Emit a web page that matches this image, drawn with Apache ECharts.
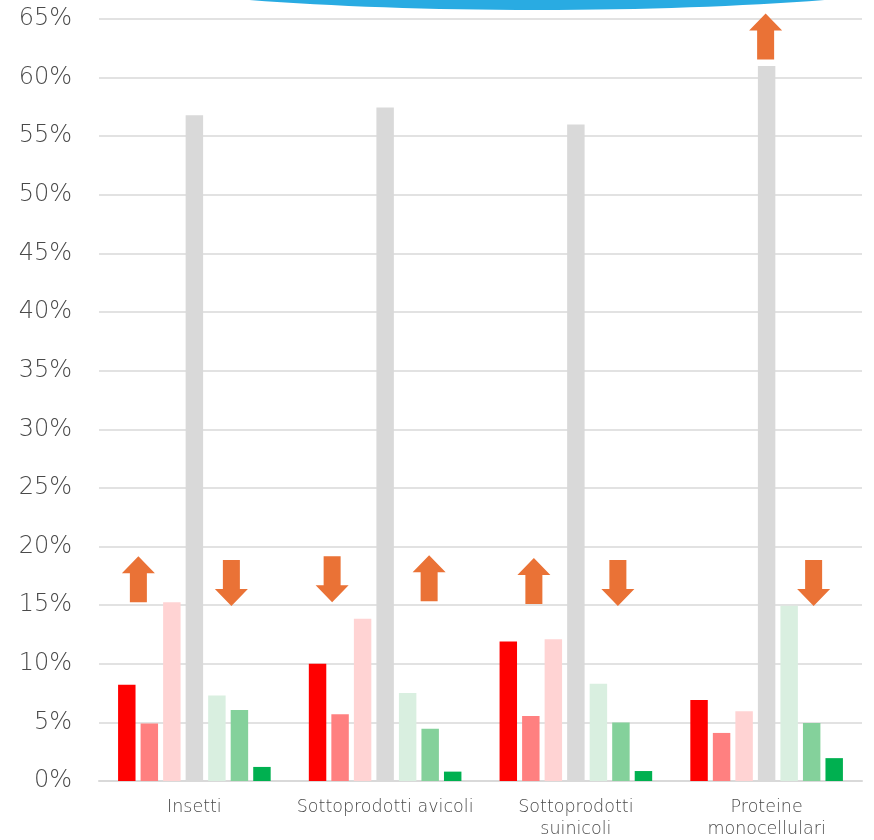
<!DOCTYPE html>
<html>
<head>
<meta charset="utf-8">
<script src="https://cdn.jsdelivr.net/npm/echarts@6/dist/echarts.min.js"></script>
<style>
  html, body { margin: 0; padding: 0; background: #fff; }
  #chart { width: 874px; height: 840px; }
</style>
</head>
<body>
<div id="chart"></div>
<script>
// ---- data ----
const categories = ['Insetti', 'Sottoprodotti avicoli', 'Sottoprodotti\nsuinicoli', 'Proteine\nmonocellulari'];
const series1 = [8.2, 10.0, 11.9, 6.9];
const series2 = [4.9, 5.7, 5.55, 4.1];
const series3 = [15.25, 13.85, 12.1, 5.95];
const series4 = [56.8, 57.45, 56.0, 61.0];
const series5 = [7.3, 7.5, 8.3, 14.95];
const series6 = [6.05, 4.45, 5.0, 4.95];
const series7 = [1.2, 0.8, 0.85, 1.95];
const yTicks = { min: 0, max: 65, step: 5 };
// arrows: category index, value (centre), direction
const arrowCats = [0, 0, 1, 1, 2, 2, 3, 3];
const arrowValues = [17.2, 16.9, 17.2, 17.3, 17.05, 16.9, 16.9, 63.5];
const arrowDirs = ['up', 'down', 'down', 'up', 'up', 'down', 'down', 'up'];

// ---- layout / style ----
const arrowOffsets = [-56, 37, -53, 44, -42, 42, 47, -1];
const colors = ['#FF0000', '#FF8080', '#FFD3D3', '#D9D9D9', '#D9EFE0', '#84D19B', '#00B050'];
const textColor = '#4a4a4a';
const font = '"DejaVu Sans", sans-serif';
const upPath = 'path://M16.5,0 L33,17 L25,17 L25,46 L8,46 L8,17 L0,17 Z';
const downPath = 'path://M8,0 L25,0 L25,29 L33,29 L16.5,46 L0,29 L8,29 Z';

const allSeries = [series1, series2, series3, series4, series5, series6, series7];

const chart = echarts.init(document.getElementById('chart'));

const barSeries = allSeries.map((vals, i) => ({
  name: 'Serie ' + (i + 1),
  type: 'bar',
  data: vals,
  barGap: '29%',
  barCategoryGap: '20%',
  itemStyle: { color: colors[i] },
  silent: true
}));

const arrowSeries = {
  type: 'scatter',
  silent: true,
  z: 5,
  data: arrowCats.map((c, i) => ({
    value: [categories[c], arrowValues[i]],
    symbol: arrowDirs[i] === 'up' ? upPath : downPath,
    symbolSize: [33, 46],
    symbolOffset: [arrowOffsets[i], 0],
    itemStyle: { color: '#EA7236', opacity: 1 }
  }))
};

chart.setOption({
  animation: false,
  backgroundColor: '#ffffff',
  grid: { left: 99, right: 12, top: 19, bottom: 59, containLabel: false },
  graphic: [{
    type: 'ellipse',
    shape: { cx: 537, cy: -50, rx: 520, ry: 60 },
    style: { fill: '#29ABE2' },
    z: 10
  }],
  xAxis: {
    type: 'category',
    data: categories,
    axisLine: { lineStyle: { color: '#D9D9D9', width: 2 } },
    axisTick: { show: false },
    axisLabel: {
      color: textColor,
      fontFamily: font,
      fontWeight: 200,
      fontSize: 17.5,
      margin: 15,
      lineHeight: 22,
      interval: 0
    }
  },
  yAxis: {
    type: 'value',
    min: yTicks.min,
    max: yTicks.max,
    interval: yTicks.step,
    axisLine: { show: false },
    axisTick: { show: false },
    splitLine: { lineStyle: { color: '#D9D9D9', width: 1.5 } },
    axisLabel: {
      color: textColor,
      fontFamily: font,
      fontWeight: 200,
      fontSize: 24,
      margin: 27,
      formatter: '{value}%'
    }
  },
  series: [...barSeries, arrowSeries]
});
</script>
</body>
</html>
